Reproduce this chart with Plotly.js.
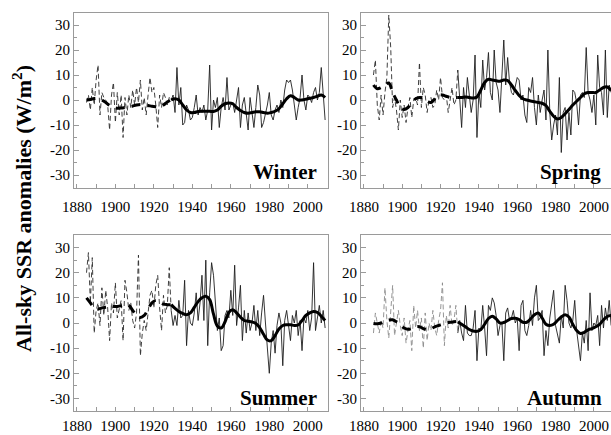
<!DOCTYPE html>
<html>
<head>
<meta charset="utf-8">
<script src="https://cdn.plot.ly/plotly-3.0.1.min.js"></script>
<style>
  html, body { margin: 0; padding: 0; overflow: hidden; background: #fff; }
  #chart { width: 616px; height: 435px; }
</style>
</head>
<body>
<div id="chart"></div>
<script>
// ---------- years ----------
function yearRange(a, b, step) { var r = []; for (var y = a; y <= b; y += step) r.push(y); return r; }
const yearsEarly = yearRange(1885, 1929, 1);
const yearsLate = yearRange(1929, 2009, 1);
const smoothYearsEarly = yearRange(1885, 1929, 2);
const smoothYearsLate = yearRange(1929, 2009, 2);

// ---------- Winter ----------
const winterEarly = [-1, 2, -4, 5, -2, 8, 14, -6, 3, 1,
  0, -2, -12, 2, 7, -9, 3, -6, 2, -15,
  1, -6, 2, -3, 4, -2, 5, -1, 8, -4,
  1, -6, 2, 9, 3, 5, -2, -11, 2, -3,
  3, 1, -2, 1, 0];
const winterLate = [0,
  2, -5, 13, -2, 5, -10, -9, -2, -4, -8,
  -7, -3, 2, -6, -3, -5, -2, -8, -4, 14,
  -12, 0, -3, 1, -11, -3, 1, -4, 9, -4,
  -2, -1, -5, 0, 5, -11, -2, 1, -6, -12,
  1, -4, -11, -3, 6, 2, -11, -9, -6, -2,
  3, -6, -8, -4, -2, -5, 0, -3, 4, 8,
  7, 8, 4, -2, -8, -3, 1, 10, 0, -4,
  2, 1, -1, 3, 5, 0, 3, 13, 1, -8];
const winterSmoothEarly = [0, 0.2, 0.6, 0.6, 0, -1, -2.2, -3, -3.3, -3.2,
  -3, -2.8, -2.4, -2, -1.8, -2, -2.2, -2.5, -2.7, -2.8, -2, -0.8, 0];
const winterSmoothLate = [0, 0.5, 0, -2, -4, -5, -5, -4.6, -4.5, -4.5,
  -4.5, -4.6, -4, -2.5, -1.5, -1.2, -1.5, -3, -4.2, -5,
  -5.3, -5, -4.7, -4.7, -5, -5.3, -5, -4.5, -3.5, -1.5,
  0.5, 1.7, 1, 0, 0, 0.3, 0.7, 1, 1.5, 2, 1];

// ---------- Spring ----------
const springEarly = [10, 16, -2, -8, 2, -6, 3, 9, 34, 21,
  -3, 1, -4, -12, 0, -7, -2, -9, -3, 1,
  -7, 0, 1, -2, 15, -3, 5, 2, -5, 0,
  1, -3, -2, 4, 0, 9, 1, 0, 2, -5,
  0, 5, -2, 0, 12];
const springLate = [12,
  -2, -11, 5, -3, 9, 1, -5, 0, 18, -15,
  3, -3, 16, 4, 9, 19, 3, 0, 20, 7,
  4, -5, 8, 24, 6, 17, 7, 3, 2, 5,
  9, 8, 0, 2, -6, -9, 5, 3, 9, -3,
  -10, 2, -5, 0, 4, -8, 20, -5, -16, -10,
  -6, -14, 9, -21, -5, -3, -16, -5, -14, 4,
  3, -1, -10, 2, 3, 1, 21, 3, 0, -5,
  2, -10, 18, 5, 3, -6, 20, -7, 6, 3];
const springSmoothEarly = [6, 4.5, 5, 6, 6.8, 3, 0, -3, -3.8, -3,
  -1, 0.5, 1, 0.8, -0.5, -1, 0.5, 2, 2, 1.5, 1, 1, 1];
const springSmoothLate = [1, 1, 1.2, 1, 0.8, 1.2, 4, 7, 8.3, 8,
  7.7, 7.5, 8, 7.8, 6, 3.8, 1.8, 0.5, 0, -0.4,
  -0.7, -1, -1.3, -2.2, -4.5, -6.5, -7.6, -7, -5.5, -3.8,
  -2, -0.5, 1, 2.5, 3, 3, 3, 4, 5, 5.2, 3.8];

// ---------- Summer ----------
const summerEarly = [20, 28, 8, 26, -4, 5, 8, -1, 14, 3,
  13, 6, -7, 8, 4, 16, 2, 6, 9, -7,
  17, 12, 5, 8, 1, -2, 4, 27, -13, -4,
  1, -3, 5, 11, 13, 6, 15, 19, 6, -3,
  11, 4, 7, 22, 5];
const summerLate = [5,
  -1, 3, -1, 9, 2, 3, 17, -9, 5, 0,
  -1, 4, 12, 1, 8, 19, 1, 25, -9, 12,
  24, 19, 7, -3, 2, -11, -9, 3, 5, 2,
  13, 3, 23, -1, 6, 15, -7, 5, -4, 4,
  -3, 0, 7, -3, 5, -5, 4, 11, 0, -11,
  -20, -8, -3, -12, -1, 4, 0, -17, 1, 5,
  0, -7, 3, 0, 5, -5, 1, -11, 2, 0,
  5, -3, 2, 24, -3, 2, 7, 0, 5, -2];
const summerSmoothEarly = [10, 8, 6, 5.5, 6, 6.3, 6.5, 6.6, 6.6, 6.8,
  7.2, 7, 5, 3, 2.2, 3, 5.5, 8, 9, 8.5, 7.5, 7.3, 7.3];
const summerSmoothLate = [7.3, 5.8, 4.6, 3.8, 3.3, 4, 6.2, 8.5, 10, 10.6,
  9.3, 3.5, -1.2, -2, 0.5, 4.3, 5.3, 4, 2.3, 1,
  0.7, 0.4, -0.2, -1.8, -4.5, -6.8, -7, -5, -2.4, -1,
  -0.7, -0.7, -1, -0.8, 1, 3, 4, 4.6, 4.2, 2.7, 1];

// ---------- Autumn ----------
const autumnEarly = [-4, 4, 0, -4, 1, -2, 14, 1, -6, 7,
  15, -5, 1, 5, -1, -5, 2, -8, -3, 1,
  -11, 7, -2, 5, -3, 2, -10, 4, -7, 0,
  -3, 5, -2, -5, 1, 5, 16, -9, 3, -2,
  7, -1, 1, 7, -4];
const autumnLate = [-4,
  1, -4, -7, 7, -4, -5, -5, -2, 5, -15,
  -2, -3, 7, -2, -13, 7, 5, 10, 8, 3,
  -5, -1, 0, -15, 4, 6, 1, 2, 5, 0,
  2, -11, 7, 9, -3, -5, -1, 5, -1, 10,
  15, 1, 2, 5, -13, -3, -9, 2, 8, 13,
  -1, -4, -8, 3, -2, 15, 9, 0, -2, 1,
  9, -3, -9, -15, -4, -8, 1, -11, 12, -3,
  0, -1, 3, -9, 7, -2, 6, 1, 9, -1];
const autumnSmoothEarly = [-0.2, -0.3, 0, 0.7, 1.2, 1.3, 0.5, -0.5, -2, -2.5,
  -2.2, -1.5, -1.5, -2.2, -2.7, -2.3, -1.5, -1, -0.5, 0, 0.3, 0.5, 0.7];
const autumnSmoothLate = [0.4, -0.5, -1.5, -2.6, -3.2, -3.3, -2.6, -0.5, 1.8, 2.7,
  1.6, 0, 0.2, 1, 1.8, 1.9, 1.4, 0.3, 0.3, 1.7,
  3.3, 4, 2, -0.5, -1, -0.5, 1, 2.4, 3.3, 2.4,
  -0.5, -3, -4.2, -3.7, -2.7, -2.2, -1.5, -0.5, 1.3, 2.6, 3];

const seasonNames = ["Winter", "Spring", "Summer", "Autumn"];
const xTickVals = [1880, 1900, 1920, 1940, 1960, 1980, 2000];
const yTickVals = [-30, -20, -10, 0, 10, 20, 30];

// ---------- build ----------
const W = 616, H = 435;
const SERIF = "Liberation Serif";
const seasons = [
  { early: winterEarly, late: winterLate, sE: winterSmoothEarly, sL: winterSmoothLate, earlyColor: "#2b2b2b" },
  { early: springEarly, late: springLate, sE: springSmoothEarly, sL: springSmoothLate, earlyColor: "#2b2b2b" },
  { early: summerEarly, late: summerLate, sE: summerSmoothEarly, sL: summerSmoothLate, earlyColor: "#2b2b2b" },
  { early: autumnEarly, late: autumnLate, sE: autumnSmoothEarly, sL: autumnSmoothLate, earlyColor: "#8a8a8a" }
];

const traces = [];
seasons.forEach(function (s, i) {
  const xa = i === 0 ? "x" : "x" + (i + 1);
  const ya = i === 0 ? "y" : "y" + (i + 1);
  traces.push({ x: yearsEarly, y: s.early, xaxis: xa, yaxis: ya, type: "scatter", mode: "lines",
    line: { color: s.earlyColor, width: 0.9, dash: "5px,3px" }, hoverinfo: "skip" });
  traces.push({ x: yearsLate, y: s.late, xaxis: xa, yaxis: ya, type: "scatter", mode: "lines",
    line: { color: "#1e1e1e", width: 0.9 }, hoverinfo: "skip" });
  traces.push({ x: smoothYearsEarly, y: s.sE, xaxis: xa, yaxis: ya, type: "scatter", mode: "lines",
    line: { color: "#000", width: 3, dash: "9px,7px", shape: "spline", smoothing: 1 }, hoverinfo: "skip" });
  traces.push({ x: smoothYearsLate, y: s.sL, xaxis: xa, yaxis: ya, type: "scatter", mode: "lines",
    line: { color: "#000", width: 3, shape: "spline", smoothing: 1 }, hoverinfo: "skip" });
});

function xAxis(dom, anchor, standoff) {
  return {
    domain: dom, anchor: anchor, range: [1878.5, 2010.5],
    showline: true, mirror: true, linecolor: "#9a9a9a", linewidth: 1,
    ticks: "inside", ticklen: 4, tickcolor: "#9a9a9a", tickwidth: 1,
    tickvals: xTickVals, ticktext: xTickVals.map(String), ticklabelstandoff: standoff,
    minor: { dtick: 10, tick0: 1880, ticks: "inside", ticklen: 4, tickcolor: "#9a9a9a" },
    showgrid: false, zeroline: false,
    tickfont: { family: SERIF, size: 15, color: "#000" }, fixedrange: true
  };
}
function yAxis(dom, anchor) {
  return {
    domain: dom, anchor: anchor, range: [-35, 35],
    showline: true, mirror: true, linecolor: "#9a9a9a", linewidth: 1,
    ticks: "inside", ticklen: 5, tickcolor: "#9a9a9a", tickwidth: 1,
    tickvals: yTickVals, ticktext: yTickVals.map(String),
    minor: { dtick: 5, tick0: 0, ticks: "inside", ticklen: 3, tickcolor: "#9a9a9a" },
    showgrid: false, zeroline: false,
    tickfont: { family: SERIF, size: 15, color: "#000" }, fixedrange: true
  };
}

const leftX = [74 / W, 328 / W], rightX = [361 / W, 614 / W];
const topY = [1 - 187.5 / H, 1 - 12.5 / H], botY = [1 - 411 / H, 1 - 235 / H];

const labelFont = { family: SERIF, size: 21, color: "#000", weight: "bold" };
const layout = {
  width: W, height: H,
  margin: { l: 0, r: 0, t: 0, b: 0 },
  paper_bgcolor: "#fff", plot_bgcolor: "#fff",
  showlegend: false,
  font: { family: SERIF, color: "#000" },
  xaxis: xAxis(leftX, "y", 5), yaxis: yAxis(topY, "x"),
  xaxis2: xAxis(rightX, "y2", 5), yaxis2: yAxis(topY, "x2"),
  xaxis3: xAxis(leftX, "y3", 1), yaxis3: yAxis(botY, "x3"),
  xaxis4: xAxis(rightX, "y4", 1), yaxis4: yAxis(botY, "x4"),
  annotations: [
    { text: seasonNames[0], xref: "paper", yref: "paper", x: 319 / W, y: 1 - 172 / H, xanchor: "right", yanchor: "middle", showarrow: false, font: labelFont },
    { text: seasonNames[1], xref: "paper", yref: "paper", x: 603 / W, y: 1 - 172 / H, xanchor: "right", yanchor: "middle", showarrow: false, font: labelFont },
    { text: seasonNames[2], xref: "paper", yref: "paper", x: 319 / W, y: 1 - 398 / H, xanchor: "right", yanchor: "middle", showarrow: false, font: labelFont },
    { text: seasonNames[3], xref: "paper", yref: "paper", x: 604 / W, y: 1 - 398 / H, xanchor: "right", yanchor: "middle", showarrow: false, font: labelFont },
    { text: "All-sky SSR anomalies (W/m<sup>2</sup>)", xref: "paper", yref: "paper", x: 22 / W, y: 1 - 209 / H, xanchor: "center", yanchor: "middle", textangle: -90, showarrow: false,
      font: { family: SERIF, size: 22, color: "#000", weight: "bold" } }
  ]
};

Plotly.newPlot("chart", traces, layout, { staticPlot: true, displayModeBar: false });
</script>
</body>
</html>
